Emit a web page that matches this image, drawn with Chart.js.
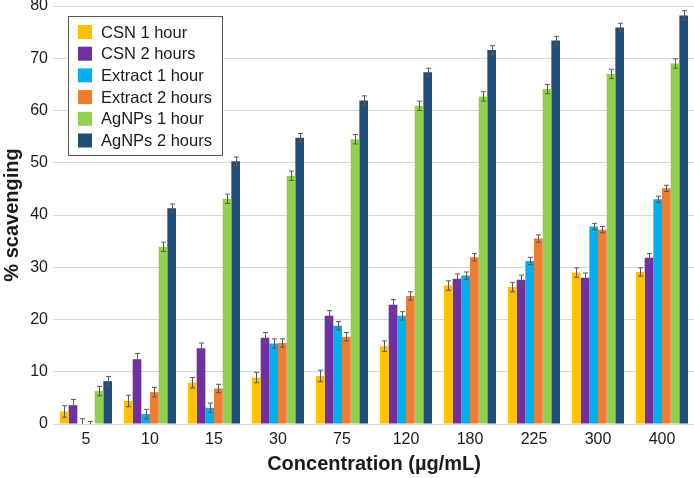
<!DOCTYPE html>
<html>
<head>
<meta charset="utf-8">
<script src="https://cdn.jsdelivr.net/npm/chart.js@4.4.1/dist/chart.umd.min.js"></script>
<style>
html,body{margin:0;padding:0;background:#fff;overflow:hidden;}
#wrap{position:relative;width:694px;height:478px;}
</style>
</head>
<body>
<div id="wrap"><canvas id="c" width="694" height="478"></canvas></div>
<script>
const categories = ['5','10','15','30','75','120','180','225','300','400'];
const seriesNames = ['CSN 1 hour','CSN 2 hours','Extract 1 hour','Extract 2 hours','AgNPs 1 hour','AgNPs 2 hours'];
const csn1h      = [2.4, 4.4, 7.9, 8.9, 9.2, 14.9, 26.5, 26.2, 29.0, 29.1];
const csn2h      = [3.6, 12.4, 14.5, 16.5, 20.7, 22.8, 27.8, 27.6, 28.0, 31.8];
const extract1h  = [0, 1.9, 3.1, 15.4, 18.8, 20.7, 28.4, 31.2, 37.8, 43.0];
const extract2h  = [0, 6.1, 6.8, 15.5, 16.7, 24.5, 31.9, 35.5, 37.2, 45.1];
const agnps1h    = [6.3, 33.9, 43.1, 47.5, 54.5, 60.9, 62.7, 64.1, 67.0, 69.0];
const agnps2h    = [8.2, 41.3, 50.3, 54.8, 61.9, 67.3, 71.6, 73.4, 75.9, 78.2];
const csn1hErr     = [1.1, 1.1, 1.0, 1.0, 1.1, 1.0, 0.9, 0.9, 0.9, 0.8];
const csn2hErr     = [1.1, 1.1, 1.0, 1.0, 1.0, 1.0, 0.9, 0.9, 0.9, 0.8];
const extract1hErr = [1.0, 0.9, 0.9, 0.9, 0.8, 0.8, 0.7, 0.7, 0.6, 0.6];
const extract2hErr = [0.5, 0.9, 0.8, 0.8, 0.8, 0.8, 0.7, 0.7, 0.6, 0.6];
const agnps1hErr   = [0.9, 0.9, 0.9, 0.9, 0.9, 0.9, 0.9, 0.9, 0.9, 0.9];
const agnps2hErr   = [0.9, 0.8, 0.8, 0.8, 0.9, 0.8, 0.8, 0.8, 0.8, 0.9];
const yTicks = [0,10,20,30,40,50,60,70,80];

const colors = ['#FFC000','#7030A0','#00B0F0','#ED7D31','#92D050','#1F4E79'];
const values = [csn1h, csn2h, extract1h, extract2h, agnps1h, agnps2h];
const errs = [csn1hErr, csn2hErr, extract1hErr, extract2hErr, agnps1hErr, agnps2hErr];

const FONT = '"Liberation Sans", Arial, sans-serif';

const errorBars = {
  id: 'errorBars',
  afterDatasetsDraw(chart) {
    const ctx = chart.ctx, y = chart.scales.y, a = chart.chartArea;
    ctx.save();
    ctx.beginPath();
    ctx.rect(a.left, a.top - 10, a.right - a.left, a.bottom - a.top + 10);
    ctx.clip();
    ctx.strokeStyle = '#595959';
    ctx.lineWidth = 1;
    chart.data.datasets.forEach((ds, di) => {
      const meta = chart.getDatasetMeta(di);
      meta.data.forEach((el, i) => {
        const v = ds.data[i], e = ds.err[i];
        const x = Math.round(el.x) + 0.5;
        const y1 = y.getPixelForValue(v + e), y2 = y.getPixelForValue(v - e);
        ctx.beginPath();
        ctx.moveTo(x, y1); ctx.lineTo(x, y2);
        ctx.moveTo(x - 2.5, y1); ctx.lineTo(x + 2.5, y1);
        ctx.moveTo(x - 2.5, y2); ctx.lineTo(x + 2.5, y2);
        ctx.stroke();
      });
    });
    ctx.restore();
  }
};

const boxLegend = {
  id: 'boxLegend',
  afterDraw(chart) {
    const ctx = chart.ctx;
    const x0 = 68, y0 = 16, w = 154, h = 139;
    ctx.save();
    ctx.fillStyle = '#fff';
    ctx.fillRect(x0, y0, w, h);
    ctx.strokeStyle = '#595959';
    ctx.lineWidth = 1;
    ctx.strokeRect(x0 + 0.5, y0 + 0.5, w, h);
    ctx.font = '16.5px ' + FONT;
    ctx.textBaseline = 'middle';
    chart.data.datasets.forEach((ds, i) => {
      const cy = 32 + i * 21.7;
      ctx.fillStyle = ds.backgroundColor;
      ctx.fillRect(78, cy - 7, 14, 14);
      ctx.fillStyle = '#1a1a1a';
      ctx.fillText(ds.label, 101, cy + 1);
    });
    ctx.restore();
  }
};

new Chart(document.getElementById('c'), {
  type: 'bar',
  data: {
    labels: categories,
    datasets: seriesNames.map((n, i) => ({
      label: n, data: values[i], err: errs[i],
      backgroundColor: colors[i], borderWidth: 0,
      barPercentage: 1.0, categoryPercentage: 0.8125
    }))
  },
  options: {
    responsive: false,
    animation: false,
    layout: { padding: { top: 6, right: 0, left: 0, bottom: 0 } },
    plugins: { legend: { display: false }, tooltip: { enabled: false } },
    scales: {
      x: {
        grid: { display: false, drawTicks: false },
        border: { display: false },
        ticks: { color: '#1a1a1a', font: { family: FONT, size: 16 }, padding: 6, maxRotation: 0 },
        title: { display: true, text: 'Concentration (µg/mL)', color: '#1a1a1a', font: { family: FONT, size: 20, weight: 'bold' }, padding: { top: 4, bottom: 2 } },
        afterFit(s) { s.height = 54; s.paddingLeft = 0; s.paddingRight = 0; }
      },
      y: {
        min: 0, max: 80,
        afterBuildTicks(s) { s.ticks = yTicks.map(v => ({ value: v })); },
        grid: { color: '#d9d9d9', lineWidth: 1, drawTicks: true, tickLength: 1 },
        border: { display: false },
        ticks: { color: '#1a1a1a', font: { family: FONT, size: 16 }, padding: 5 },
        title: { display: true, text: '% scavenging', color: '#1a1a1a', font: { family: FONT, size: 20, weight: 'bold' }, padding: { top: 0, bottom: 4 } },
        afterFit(s) { s.width = 54; s.paddingTop = 0; s.paddingBottom = 0; }
      }
    }
  },
  plugins: [errorBars, boxLegend]
});
</script>
</body>
</html>
